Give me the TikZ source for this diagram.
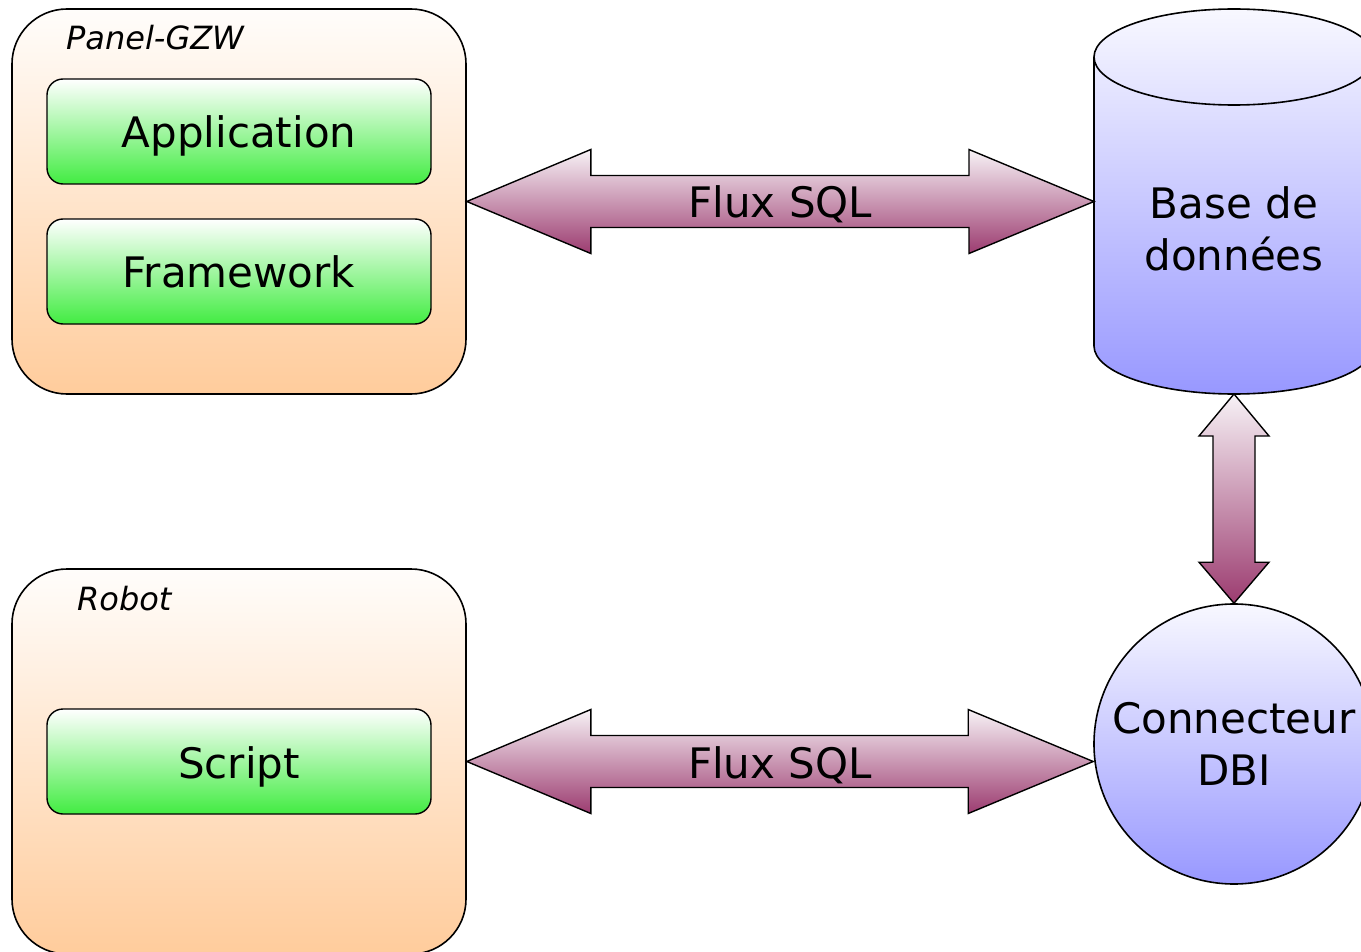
\documentclass[tikz,border=0pt]{standalone}
\usepackage{fontspec}
\setmainfont{DejaVu Sans}
\usetikzlibrary{calc}
\definecolor{peach}{RGB}{255,204,156}
\definecolor{peachtop}{RGB}{255,253,251}
\definecolor{greenbot}{RGB}{66,236,66}
\definecolor{blutop}{RGB}{248,248,255}
\definecolor{blubot}{RGB}{152,152,255}
\definecolor{magtop}{RGB}{247,242,246}
\definecolor{magbot}{RGB}{156,60,112}
\newcommand\dgbig{\fontsize{42}{52}\selectfont}
\newcommand\dgsmall{\fontsize{32}{38}\selectfont\itshape}
\begin{document}
\begin{tikzpicture}[x=1pt,y=-1pt,
  container/.style={draw, line width=1.6pt, rounded corners=55pt, top color=peachtop, bottom color=peach, minimum width=454pt, minimum height=385pt, inner sep=0pt},
  comp/.style={draw, line width=1.4pt, rounded corners=16pt, top color=white, bottom color=greenbot, minimum width=384pt, minimum height=105pt, inner sep=0pt, font=\dgbig, text height=43pt, text depth=10pt},
  fatarrow/.style={draw, line width=1.4pt, line join=miter, top color=magtop, bottom color=magbot},
  fluxlbl/.style={font=\dgbig, inner sep=0pt, text height=43pt, text depth=10pt},
  bluefill/.style={draw, line width=1.6pt, top color=blutop, bottom color=blubot},
  lbl/.style={font=\dgsmall, anchor=base west, inner sep=0pt}
]
\path[use as bounding box] (0,0) rectangle (1361,952);
\clip (0,0) rectangle (1361,952);

% containers
\node[container] (panel) at (239,201.5) {};
\node[container] (robot) at (239,761.5) {};
\node[lbl] (panellbl) at (66,50) {Panel-GZW};
\node[lbl] (robotlbl) at (77,610) {Robot};

% components
\node[comp] (app) at (239,131.5) {Application};
\node[comp] (frame) at (239,271.5) {Framework};
\node[comp] (script) at (239,761.5) {Script};

% database cylinder
\path[bluefill] (1094,57) -- (1094,346)
  arc[start angle=180,end angle=360,x radius=140pt,y radius=48pt]
  -- (1374,57)
  arc[start angle=0,end angle=180,x radius=140pt,y radius=48pt] -- cycle;
\draw[line width=1.6pt] (1094,57) arc[start angle=180,end angle=360,x radius=140pt,y radius=48pt];
\node[font=\dgbig, align=center] (db) at (1234,229) {Base de\\données};
\coordinate (dbw) at (1094,201.5);
\coordinate (dbs) at (1234,394);

% DBI connector
\node[bluefill, circle, minimum size=280pt, inner sep=0pt, font=\dgbig, align=center] (dbi) at (1234,744) {Connecteur\\DBI};
\coordinate (dbiw) at (dbi.west |- robot.east);

% arrows
\path[fatarrow] let \p1=(panel.east), \p2=(dbw) in
  (\x1,\y1) -- (\x1+124pt,\y1+52pt) -- (\x1+124pt,\y1+26pt) -- (\x2-125pt,\y2+26pt)
  -- (\x2-125pt,\y2+52pt) -- (\x2,\y2) -- (\x2-125pt,\y2-52pt) -- (\x2-125pt,\y2-26pt)
  -- (\x1+124pt,\y1-26pt) -- (\x1+124pt,\y1-52pt) -- cycle;
\node[fluxlbl] (flux1) at ($(panel.east)!0.5!(dbw)$) {Flux SQL};

\path[fatarrow] let \p1=(robot.east), \p2=(dbiw) in
  (\x1,\y1) -- (\x1+124pt,\y1+52pt) -- (\x1+124pt,\y1+26pt) -- (\x2-125pt,\y2+26pt)
  -- (\x2-125pt,\y2+52pt) -- (\x2,\y2) -- (\x2-125pt,\y2-52pt) -- (\x2-125pt,\y2-26pt)
  -- (\x1+124pt,\y1-26pt) -- (\x1+124pt,\y1-52pt) -- cycle;
\node[fluxlbl] (flux2) at ($(robot.east)!0.5!(dbiw)$) {Flux SQL};

\path[fatarrow] let \p1=(dbs), \p2=(dbi.north) in
  (\x1,\y1) -- (\x1+35pt,\y1-42pt) -- (\x1+21pt,\y1-42pt) -- (\x2+21pt,\y2+41pt)
  -- (\x2+35pt,\y2+41pt) -- (\x2,\y2) -- (\x2-35pt,\y2+41pt) -- (\x2-21pt,\y2+41pt)
  -- (\x1-21pt,\y1-42pt) -- (\x1-35pt,\y1-42pt) -- cycle;
\end{tikzpicture}
\end{document}
